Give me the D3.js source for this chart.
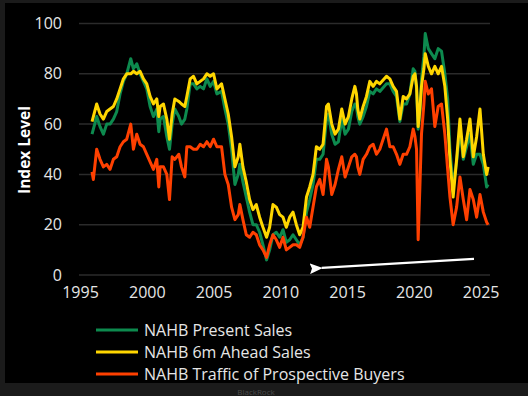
<!DOCTYPE html>
<html>
<head>
<meta charset="utf-8">
<script src="https://cdn.jsdelivr.net/npm/d3@7"></script>
<style>
  html, body { margin: 0; padding: 0; background: #1b1b1b; }
  svg { display: block; }
  text { font-family: "Open Sans", "Noto Sans", sans-serif; }
</style>
</head>
<body>
<div class="chart"></div>
<script>
// decimal years shared by the three series
var years = [
  1995.9, 1996.0, 1996.25, 1996.5, 1996.75, 1997.0, 1997.25, 1997.5, 1997.75,
  1998.0, 1998.25, 1998.5, 1998.8, 1999.0, 1999.25, 1999.5, 1999.75,
  2000.0, 2000.25, 2000.5, 2000.75, 2000.9, 2001.0, 2001.25, 2001.5, 2001.7, 2001.9,
  2002.1, 2002.4, 2002.6, 2002.85, 2003.0, 2003.25, 2003.5, 2003.75,
  2004.0, 2004.25, 2004.5, 2004.75, 2005.0, 2005.25, 2005.6, 2005.85,
  2006.1, 2006.35, 2006.6, 2006.85, 2006.97, 2007.2, 2007.45, 2007.7, 2007.95,
  2008.2, 2008.45, 2008.7, 2008.97, 2009.2, 2009.45, 2009.7, 2009.95,
  2010.2, 2010.45, 2010.7, 2010.95, 2011.2, 2011.45, 2011.7, 2011.96,
  2012.2, 2012.45, 2012.7, 2012.95, 2013.2, 2013.46, 2013.6, 2013.85,
  2014.1, 2014.35, 2014.6, 2014.85, 2015.1, 2015.35, 2015.58, 2015.7, 2015.8, 2015.95,
  2016.2, 2016.45, 2016.7, 2016.95, 2017.2, 2017.45, 2017.95,
  2018.2, 2018.45, 2018.7, 2018.95, 2019.2, 2019.45, 2019.7, 2019.95,
  2020.08, 2020.2, 2020.32, 2020.45, 2020.57, 2020.75, 2020.85,
  2021.08, 2021.32, 2021.57, 2021.82, 2022.07, 2022.32, 2022.53, 2022.7, 2022.94,
  2023.2, 2023.45, 2023.7, 2023.95, 2024.2, 2024.45, 2024.7, 2024.95,
  2025.2, 2025.45, 2025.56
];

var presentSales = [
  56, 58, 63, 59, 56, 60, 60, 62, 65,
  72, 77, 80, 86, 82, 84, 80, 77,
  74, 67, 63, 66, 57, 62, 63, 55, 50, 60,
  66, 63, 60, 62, 66, 76, 76, 74,
  75, 74, 78, 75, 77, 72, 73, 66,
  60, 50, 36, 40, 44, 37, 31, 25, 20,
  20, 17, 12, 6, 10, 16, 17, 15,
  18, 13, 14, 16, 14, 12, 15, 25,
  30, 36, 46, 46, 48, 62, 64, 56,
  52, 53, 62, 56, 58, 65, 68, 67, 63, 60,
  63, 67, 73, 72, 74, 73, 76,
  76, 73, 71, 61, 68, 68, 72, 82,
  81, 74, 58, 64, 78, 87, 96,
  90, 88, 86, 90, 89, 80, 70, 50, 35,
  45, 58, 46, 51, 56, 44, 48, 48,
  44, 35, 36
];

var aheadSales = [
  61, 63, 68, 64, 62, 65, 66, 67, 70,
  74, 78, 80, 80, 81, 80, 81, 78,
  76, 71, 68, 70, 63, 67, 68, 62, 54, 64,
  70, 69, 68, 67, 71, 78, 79, 76,
  77, 78, 80, 79, 80, 74, 76, 70,
  64, 55, 43, 47, 52, 43, 37, 30, 26,
  28, 23, 19, 15, 19, 28, 27, 24,
  23, 19, 23, 25, 20, 16, 19, 31,
  35, 40, 51, 50, 52, 67, 68, 60,
  56, 58, 66, 60, 63, 70, 75, 72, 66, 62,
  67, 71, 77, 75, 77, 76, 79,
  78, 75, 73, 62, 71, 70, 72, 79,
  80, 75, 59, 66, 75, 82, 88,
  83, 80, 83, 80, 83, 75, 62, 46, 31,
  46, 62, 47, 54, 62, 47, 55, 66,
  48, 40, 43
];

var traffic = [
  41, 38, 50, 46, 43, 44, 42, 46, 47,
  51, 53, 54, 60, 50, 56, 52, 51,
  48, 45, 42, 46, 35, 43, 43, 40, 30, 47,
  46, 48, 43, 39, 51, 51, 50, 50,
  52, 51, 53, 51, 54, 51, 51, 40,
  36, 27, 22, 24, 28, 22, 16, 15, 17,
  16, 12, 10, 7, 12, 16, 14, 11,
  15, 10, 11, 12, 12, 11, 15, 23,
  19, 27, 35, 38, 32, 46, 43, 32,
  36, 42, 47, 39, 43, 47, 48, 47, 43, 40,
  46, 48, 51, 52, 48, 50, 58,
  51, 51, 48, 44, 48, 48, 51, 58,
  55, 50, 14, 35, 56, 68, 77,
  72, 74, 59, 67, 68, 56, 42, 31, 20,
  27, 39, 30, 22, 34, 30, 23, 32,
  25, 21, 20
];

var seriesNames = ["NAHB Present Sales", "NAHB 6m Ahead Sales", "NAHB Traffic of Prospective Buyers"];
var seriesColors = ["#0d8a4e", "#ffd600", "#ff4000"];
var xTicks = [1995, 2000, 2005, 2010, 2015, 2020, 2025];
var yTicks = [0, 20, 40, 60, 80, 100];

var W = 528, H = 396;

var svg = d3.select(".chart").append("svg")
    .attr("width", W)
    .attr("height", H);

// black panel
svg.append("rect")
    .attr("x", 5).attr("y", 3)
    .attr("width", W - 5).attr("height", 380)
    .attr("fill", "#000");

var x = d3.scaleLinear().domain([1995, 2025.7]).range([80, 490]);
var y = d3.scaleLinear().domain([0, 100]).range([275, 23.5]);

// gridlines
svg.append("g")
    .selectAll("line")
    .data(yTicks)
    .enter().append("line")
    .attr("x1", x(1995) - 1)
    .attr("x2", x(2025.7))
    .attr("y1", function (d) { return y(d); })
    .attr("y2", function (d) { return y(d); })
    .attr("stroke", "#2b2b2b")
    .attr("stroke-width", 1.5);

var yAxis = d3.axisLeft(y).tickValues(yTicks).tickSize(0).tickPadding(0);
svg.append("g")
    .attr("class", "y axis")
    .attr("transform", "translate(62,0)")
    .call(yAxis)
    .call(function (g) { g.select(".domain").remove(); })
    .selectAll("text")
    .attr("fill", "#e6e6e6")
    .style("font-size", "16px");

var xAxis = d3.axisBottom(x).tickValues(xTicks).tickFormat(d3.format("d")).tickSize(0).tickPadding(0);
svg.append("g")
    .attr("class", "x axis")
    .attr("transform", "translate(0,287)")
    .call(xAxis)
    .call(function (g) { g.select(".domain").remove(); })
    .selectAll("text")
    .attr("fill", "#e6e6e6")
    .style("font-size", "16px");

svg.append("text")
    .attr("transform", "translate(30,150) rotate(-90)")
    .attr("text-anchor", "middle")
    .attr("fill", "#fff")
    .style("font-size", "15.5px")
    .style("font-weight", "bold")
    .text("Index Level");

// lines
var allSeries = [presentSales, aheadSales, traffic];
var line = d3.line()
    .x(function (d, i) { return x(years[i]); })
    .y(function (d) { return y(d); });

svg.append("g")
    .selectAll("path")
    .data(allSeries)
    .enter().append("path")
    .attr("d", line)
    .attr("fill", "none")
    .attr("stroke", function (d, i) { return seriesColors[i]; })
    .attr("stroke-width", 3)
    .attr("stroke-linejoin", "round");

// arrow annotation
svg.append("defs").append("marker")
    .attr("id", "head")
    .attr("viewBox", "0 0 12 10")
    .attr("refX", 1).attr("refY", 5)
    .attr("markerUnits", "userSpaceOnUse")
    .attr("markerWidth", 13).attr("markerHeight", 11)
    .attr("orient", "auto")
    .append("path")
    .attr("d", "M12,0 L0,5 L12,10 L10,5 z")
    .attr("fill", "#fff");

svg.append("line")
    .attr("x1", x(2024.5)).attr("y1", y(6.4))
    .attr("x2", x(2013.1)).attr("y2", y(2.8))
    .attr("stroke", "#fff")
    .attr("stroke-width", 2.2)
    .attr("marker-end", "url(#head)");

// legend
var legend = svg.selectAll(".legend")
    .data(seriesNames)
    .enter().append("g")
    .attr("class", "legend")
    .attr("transform", function (d, i) { return "translate(96," + (330 + i * 22) + ")"; });

legend.append("line")
    .attr("x1", 0).attr("x2", 42)
    .attr("stroke", function (d, i) { return seriesColors[i]; })
    .attr("stroke-width", 3);

legend.append("text")
    .attr("x", 48)
    .attr("dy", "0.36em")
    .attr("fill", "#e6e6e6")
    .style("font-size", "16px")
    .text(function (d) { return d; });

svg.append("text")
    .attr("x", 256).attr("y", 395)
    .attr("text-anchor", "middle")
    .attr("fill", "#4a4a4a")
    .style("font-size", "8px")
    .text("BlackRock");
</script>
</body>
</html>
